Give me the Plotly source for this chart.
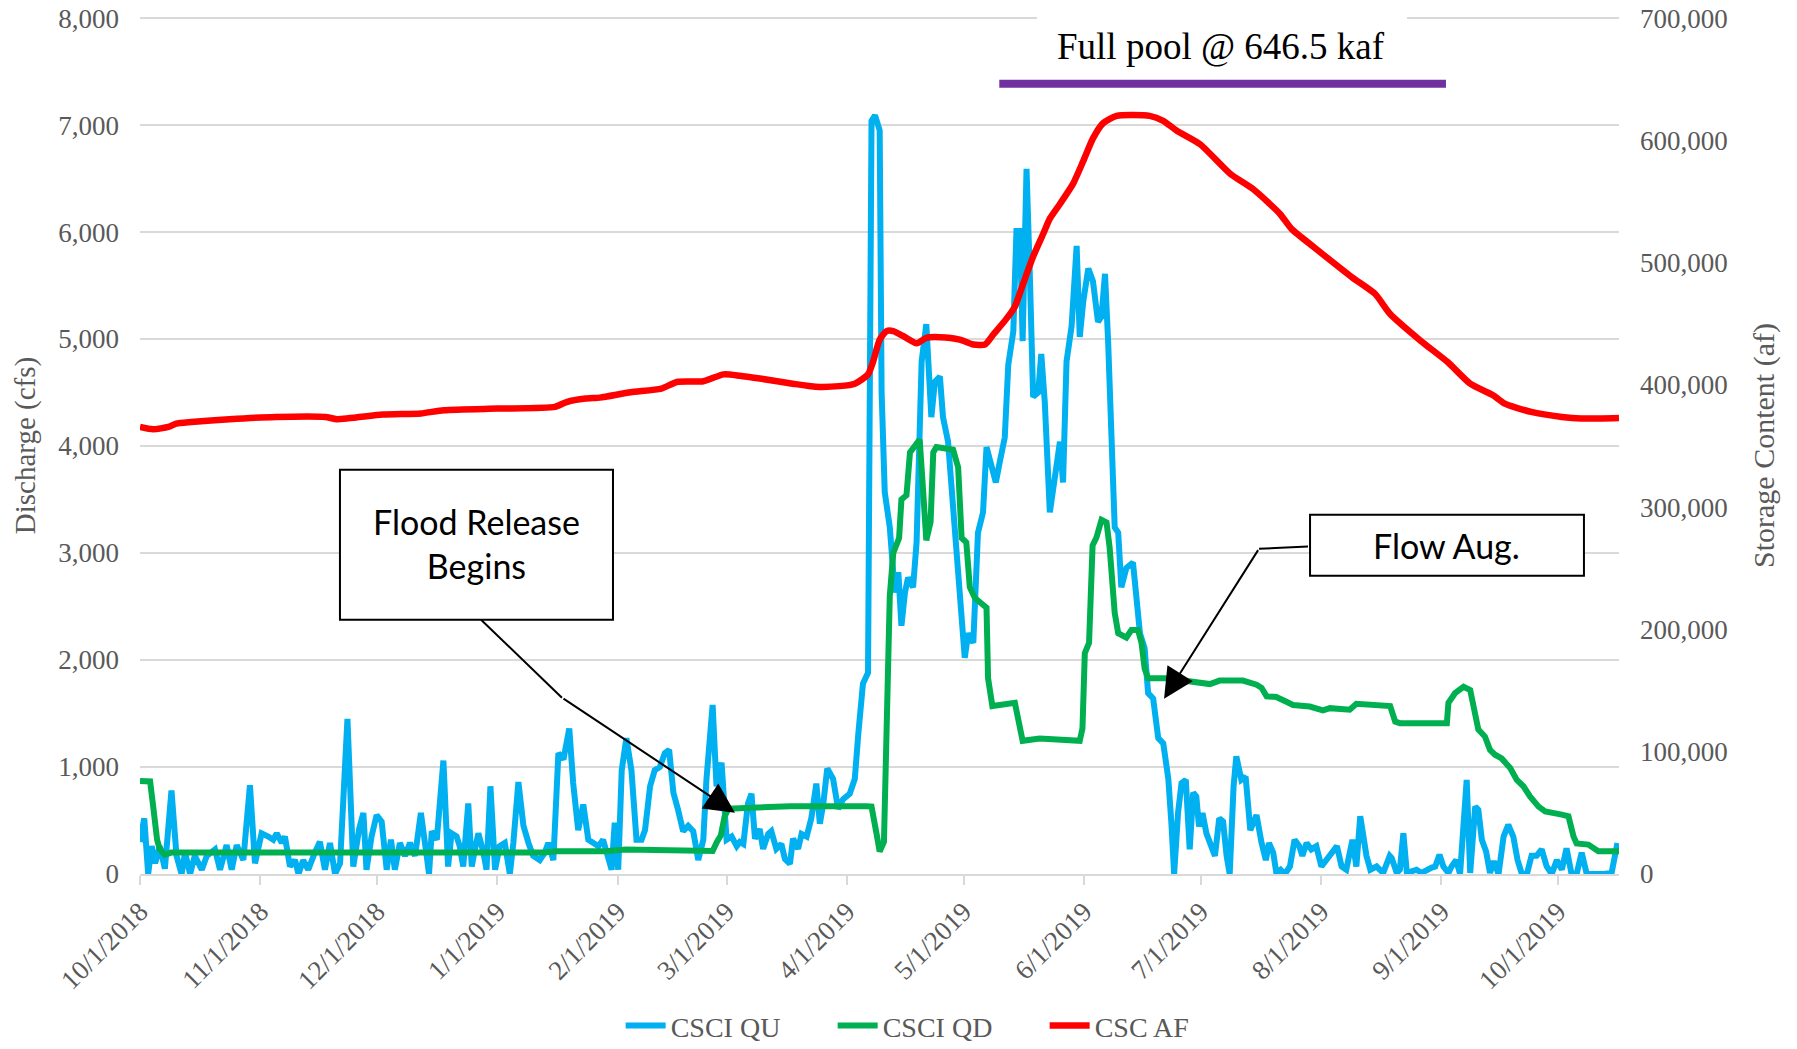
import pandas as pd
import plotly.graph_objects as go

# Water year 2019 — Crystal (CSCI) inflow / release and storage
START = pd.Timestamp("2018-10-01")

# CSCI QU (cfs), day offsets from 10/1/2018
qu_day = [0, 1.1, 2.1, 3, 3.9, 5.1, 6.4, 8.1, 9.4, 10.7, 11.6, 12.9, 14.1, 15.9, 17.2, 19.3, 20.6, 22.3,
          23.6, 24.9, 26.6, 28.3, 29.6, 31.3, 33, 34.3, 35.2, 36.5, 37.3, 38.6, 39.9, 40.8, 42, 43.3, 45,
          46.3, 47.6, 48.9, 50.2, 51.5, 53.4, 54.9, 56.4, 57.5, 58.3, 59.6, 60.9, 62.2, 63.5, 64.6, 65.6,
          66.9, 68.2, 69.5, 70.8, 72.3, 73.8, 74.4, 75.1, 76.4, 78.1, 79.3, 80.2, 81.5, 82.3, 83.2, 84.5,
          85.4, 86.2, 87.1, 88.4, 89.2, 90.2, 91.4, 92.6, 93.9, 95.2, 96.1, 97.4, 98.7, 100, 101.2, 102.9,
          104.2, 105.1, 106.4, 107.7, 109, 110.5, 111.5, 112.8, 114.1, 115.4, 116.7, 118, 119.2, 120.5,
          121.4, 122.2, 123.1, 124, 125.2, 126.5, 127.8, 129.1, 130, 131.3, 132.5, 133.8, 135.1, 136.2,
          137.3, 138.5, 139.8, 141.1, 142.4, 143.7, 145, 145.8, 147.4, 148.4, 149.7, 151, 152.3, 153.6,
          154.4, 155.3, 156.5, 157.4, 158.3, 159.5, 160.4, 161.7, 162.5, 163.8, 165.1, 166, 167.3, 168.1,
          169.4, 170.3, 171.6, 172.8, 174.1, 175, 175.9, 176.9, 178.4, 179.7, 181, 182.7, 184, 184.9,
          186.1, 187.4, 188.3, 189.2, 190.4, 190.9, 191.7, 193, 194.3, 195.2, 196, 196.9, 197.7, 199,
          199.9, 201.2, 202.4, 203.7, 204.6, 205.9, 206.7, 208, 209.3, 210.6, 211.5, 212.3, 213.2, 214.5,
          215.7, 217, 217.9, 219.2, 220.3, 221.3, 222.6, 223.5, 224.8, 225.6, 226.5, 227.2, 228.2, 229.1,
          229.9, 231.2, 232, 232.9, 234.2, 235.5, 236.8, 237.6, 238.5, 239.8, 241.1, 241.9, 242.8, 244.1,
          245.3, 246.6, 247.5, 248.4, 249.2, 250.9, 251.8, 252.6, 253.9, 255.6, 257.4, 258.6, 259.5,
          260.8, 262.1, 263.4, 264.7, 265.5, 266.2, 267.2, 268.1, 269.2, 270.2, 271.1, 271.9, 272.6,
          273.5, 274.5, 275.8, 276.7, 277.8, 278.8, 279.7, 280.5, 281.5, 282.2, 283.5, 284.6, 285.8,
          287.4, 288.7, 289.8, 290.6, 291.7, 292.5, 293.6, 294.7, 296, 297.2, 298.4, 299.2, 300.3, 301.5,
          302.8, 304.1, 305.4, 306.7, 308.1, 309.3, 310.5, 312.1, 313.1, 314.1, 315.7, 316.7, 318.3, 320,
          321.7, 322.2, 323.5, 324.3, 325.2, 326.1, 327.4, 328.6, 329.9, 331.2, 332.5, 333.4, 334.5,
          335.5, 336.8, 337.6, 338.8, 339.8, 341.5, 342.4, 343.7, 344.5, 345.4, 346.5, 347.5, 348.5,
          349.7, 351, 352.2, 353.5, 354.6, 355.7, 357, 358.2, 359.5, 360.8, 362.1, 363.4, 364.7, 366,
          367.2, 368.5, 369.8, 371.1, 372.4, 376.7, 378.8, 380.3]
qu_cfs = [300, 520, 0, 260, 100, 260, 50, 780, 170, 0, 200, 0, 170, 40, 170, 230, 40, 270,
          40, 270, 130, 830, 100, 380, 350, 320, 380, 290, 350, 70, 130, 0, 130, 40, 200,
          300, 40, 290, 0, 100, 1450, 70, 420, 570, 40, 350, 550, 490, 40, 320, 40,
          290, 170, 290, 170, 570, 170, 0, 400, 320, 1060, 70, 380, 350, 260, 70, 660,
          70, 230, 380, 200, 40, 820, 40, 260, 290, 0, 290, 860, 450, 290, 170, 130,
          200, 290, 130, 1130, 1070, 1360, 850, 410, 650, 320, 290, 260, 320, 130,
          40, 480, 40, 970, 1270, 970, 320, 320, 410, 820, 970, 1000, 1130, 1160,
          760, 600, 400, 450, 400, 130, 320, 880, 1580, 820, 1040, 320, 350, 260,
          300, 280, 660, 750, 330, 420, 235, 375, 400, 235, 280, 140, 94, 330,
          235, 375, 350, 520, 845, 470, 660, 985, 890, 610, 700, 750, 890, 1310,
          1780, 1880, 7040, 7090, 6950, 4500, 3570, 3240, 2630, 2820, 2320, 2630, 2770, 2680,
          3100, 4790, 5140, 4270, 4600, 4650, 4270, 4040, 3470, 2910, 2490, 2020, 2250, 2160,
          3190, 3380, 3990, 3800, 3660, 3850, 4080, 4760, 5070, 6010, 6010, 4980, 6590, 5540,
          4460, 4500, 4860, 4410, 3380, 3710, 4040, 3660, 4790, 5120, 5870, 5020, 5350, 5660,
          5540, 5160, 5210, 5610, 4980, 3240, 3190, 2680, 2860, 2910, 2250, 2110, 1690,
          1640, 1270, 1220, 890, 470, 0, 570, 850, 880, 230, 760, 725, 445,
          570, 380, 230, 170, 520, 490, 170, 0, 820, 1100, 880, 910, 410,
          550, 290, 130, 290, 200, 10, 40, 0, 70, 320, 260, 170, 290, 230,
          260, 70, 130, 200, 260, 70, 40, 320, 70, 540, 170, 40, 70, 10,
          170, 150, 10, 40, 380, 10, 25, 40, 10, 40, 60, 70, 180,
          70, 10, 70, 130, 0, 880, 10, 630, 600, 320, 210, 10, 120,
          0, 350, 460, 350, 130, 0, 0, 170, 170, 230, 70, 0, 130, 40,
          240, 0, 0, 200, 0, 0, 10, 290]

# CSCI QD (cfs)
qd_day = [0, 2.6, 3.4, 4.4, 5.1, 6.4, 8, 20, 40, 60, 78, 104, 107, 120, 125, 146, 147.4, 148.5,
          149.5, 150.5, 151.5, 154.4, 167.3, 187, 188.3, 189.6, 190.4, 191.5, 192.2, 193, 193.9,
          195.4, 196, 197.3, 198.2, 200.7, 201.6, 202.4, 203.5, 204.2, 205, 209.3, 210.6, 211.5,
          212.7, 213.6, 214.9, 217.9, 218.3, 219.4, 225.2, 226, 227.2, 231.6, 241.9, 242.6, 243.2,
          244.3, 245.2, 246.2, 247.5, 248.8, 249.6, 250.9, 251.8, 253.9, 255.2, 256.9, 257.8,
          258.6, 259.5, 264.2, 271.9, 275.4, 277.9, 283.9, 287.4, 288.7, 290, 292.5, 295.1, 296.8,
          301.1, 304.5, 306.3, 311.4, 313.1, 321.8, 323.1, 324.3, 336.4, 336.8, 338.5, 340.7,
          342.4, 343.7, 344.5, 346.2, 347.5, 348.8, 350.5, 352.7, 354.4, 356.1, 357.8, 360, 361.7,
          366, 367.7, 369, 369.8, 372.8, 375.4, 380.7]
qd_cfs = [870, 865, 630, 320, 230, 180, 200, 205, 200, 200, 196, 200, 212, 212, 228, 228, 215, 300,
          360, 540, 610, 615, 633, 633, 630, 375, 211, 300, 1200, 2600, 3000,
          3140, 3500, 3540, 3940, 4060, 3570, 3120, 3290, 3940, 3990, 3965, 3800, 3140,
          3100, 2680, 2580, 2490, 1830, 1570, 1600, 1455, 1245, 1267, 1245, 1360, 2065,
          2160, 3070, 3145, 3310, 3285, 3050, 2440, 2250, 2210, 2280, 2280, 2160,
          1920, 1830, 1830, 1790, 1775, 1808, 1808, 1770, 1740, 1660, 1655, 1610, 1580,
          1565, 1530, 1550, 1535, 1590, 1570, 1425, 1410, 1410, 1600, 1690, 1750,
          1720, 1440, 1350, 1285, 1160, 1115, 1080, 990, 880, 820, 725, 630, 585,
          555, 540, 350, 285, 275, 212, 212]

# CSC AF (acre-feet)
af_day = [0, 3.4, 7.3, 9.3, 13.2, 23, 34.9, 47.7, 50.7, 62.5, 72.3, 78.2, 92, 106.8, 109.8, 114.7,
          118.4, 126.3, 134.2, 138.2, 145, 150.2, 154.4, 160, 168, 174, 180, 184, 187.4, 188.7,
          190.4, 192.2, 193.9, 196.4, 199.9, 202.4, 205.9, 211, 214.5, 217.5, 219.6, 223, 225.2,
          227.3, 229.9, 232.5, 234.2, 236.8, 240.2, 242.8, 245.3, 247.9, 251.4, 259.9, 263.4,
          266.8, 272.8, 280.7, 286.6, 293.4, 296.4, 302.2, 312, 317.9, 321.8, 329.7, 336.6, 342.4,
          348.3, 351.3, 358.1, 366, 370.9, 380.7]
af_val = [365600, 363700, 365600, 368400, 369700, 371900, 373800, 373800, 372000, 375700, 376600,
          379300, 380600, 382000, 386000, 388800, 389600, 394000, 397000, 402400, 403000, 408600,
          407500, 405000, 401000, 398500, 399000, 401000, 408600, 419000, 437000, 444000, 444000,
          440000, 434000, 438500, 439000, 437000, 433000, 433000, 441000, 454000, 464000, 482500,
          505000, 523600, 536000, 548000, 564600, 583000, 601600, 614000, 620000, 620000, 616000,
          608000, 597000, 572500, 560000, 540000, 527600, 512600, 488000, 474500, 458000, 436000,
          418700, 401000, 391500, 384700, 377900, 373800, 372500, 373000]

tick_dates = ["2018-10-01", "2018-11-01", "2018-12-01", "2019-01-01", "2019-02-01", "2019-03-01",
              "2019-04-01", "2019-05-01", "2019-06-01", "2019-07-01", "2019-08-01", "2019-09-01",
              "2019-10-01"]
tick_text = ["10/1/2018", "11/1/2018", "12/1/2018", "1/1/2019", "2/1/2019", "3/1/2019", "4/1/2019",
             "5/1/2019", "6/1/2019", "7/1/2019", "8/1/2019", "9/1/2019", "10/1/2019"]


def to_dates(days):
    return START + pd.to_timedelta(days, unit="D")


SERIF = "Liberation Serif"
CALLOUT = "Lato"
GREY = "#595959"
GRID = "#d9d9d9"

fig = go.Figure()
fig.add_trace(go.Scatter(x=to_dates(qu_day), y=qu_cfs, name="CSCI QU", mode="lines",
                         line=dict(color="#00B0F0", width=6)))
fig.add_trace(go.Scatter(x=to_dates(qd_day), y=qd_cfs, name="CSCI QD", mode="lines",
                         line=dict(color="#00B050", width=6)))
fig.add_trace(go.Scatter(x=to_dates(af_day), y=af_val, name="CSC AF", mode="lines", yaxis="y2",
                         line=dict(color="#FF0000", width=6.5, shape="spline", smoothing=0.6)))

fig.update_layout(
    width=1797, height=1049,
    margin=dict(l=140, r=178, t=17, b=175),
    plot_bgcolor="white", paper_bgcolor="white",
    font=dict(family=SERIF, color=GREY, size=27),
    xaxis=dict(type="date", range=["2018-10-01", "2019-10-16 17:00"], automargin=False,
               tickvals=tick_dates, ticktext=tick_text, tickangle=-45,
               ticks="outside", ticklen=9, tickwidth=1.5, tickcolor=GRID,
               showgrid=False, showline=True, linecolor=GRID, linewidth=2, zeroline=False,
               tickfont=dict(size=27)),
    yaxis=dict(range=[0, 8010], tickvals=[0, 1000, 2000, 3000, 4000, 5000, 6000, 7000, 8000],
               tickformat=",", gridcolor=GRID, gridwidth=2, ticklabeloverflow="allow",
               zeroline=False, showline=False, ticklabelstandoff=20, automargin=False,
               title=dict(text="Discharge (cfs)", standoff=14, font=dict(size=29))),
    yaxis2=dict(range=[0, 700875], tickvals=[0, 100000, 200000, 300000, 400000, 500000, 600000, 700000],
                tickformat=",", overlaying="y", side="right", ticklabeloverflow="allow",
                showgrid=False, zeroline=False, showline=False, ticklabelstandoff=20,
                automargin=False,
                title=dict(text="Storage Content (af)", standoff=26, font=dict(size=30))),
    legend=dict(orientation="h", x=0.540, xanchor="center", yref="container", y=0.022,
                yanchor="middle", bgcolor="rgba(0,0,0,0)",
                font=dict(size=28), itemwidth=40, entrywidth=157, entrywidthmode="pixels"),
)

# gap in top gridline behind the full-pool label, plus the purple bar
fig.add_shape(type="rect", xref="paper", yref="paper", x0=0.6065, x1=0.8567, y0=0.99, y1=1.01,
              fillcolor="white", line=dict(width=0), layer="above")
fig.add_shape(type="line", xref="paper", yref="paper", x0=0.581, x1=0.883, y0=0.922, y1=0.922,
              line=dict(color="#7030A0", width=8))
fig.add_annotation(text="Full pool @ 646.5 kaf", xref="paper", yref="paper", x=0.731, y=0.966,
                   xanchor="center", yanchor="middle", showarrow=False,
                   font=dict(family=SERIF, size=37, color="black"))

# callout boxes
fig.add_shape(type="rect", xref="paper", yref="paper", x0=0.1352, x1=0.3198, y0=0.2967, y1=0.4717,
              line=dict(color="black", width=2), fillcolor="white", layer="above")
fig.add_annotation(text="Flood Release<br>Begins", xref="paper", yref="paper", x=0.2275, y=0.386,
                   xanchor="center", yanchor="middle", showarrow=False,
                   font=dict(family=CALLOUT, size=34, color="black"))
fig.add_shape(type="line", xref="paper", yref="paper", x0=0.2306, y0=0.2967, x1=0.2853, y1=0.2057,
              line=dict(color="black", width=2))
fig.add_annotation(text="", xref="paper", yref="paper", x=0.4023, y=0.0716, ax=-173, ay=-115,
                   showarrow=True, arrowhead=2, arrowsize=3, arrowwidth=2, arrowcolor="black")

fig.add_shape(type="rect", xref="paper", yref="paper", x0=0.7911, x1=0.9763, y0=0.348, y1=0.4192,
              line=dict(color="black", width=2), fillcolor="white", layer="above")
fig.add_annotation(text="Flow Aug.", xref="paper", yref="paper", x=0.8837, y=0.3836,
                   xanchor="center", yanchor="middle", showarrow=False,
                   font=dict(family=CALLOUT, size=34, color="black"))
fig.add_shape(type="line", xref="paper", yref="paper", x0=0.7897, y0=0.3822, x1=0.7566, y1=0.3795,
              line=dict(color="black", width=2))
fig.add_annotation(text="", xref="paper", yref="paper", x=0.6924, y=0.2046, ax=95, ay=-150,
                   showarrow=True, arrowhead=2, arrowsize=3, arrowwidth=2, arrowcolor="black")

# drop the default 8px body margin so the figure sits at the page origin; no modebar
fig.write_html("out.html", config={"displayModeBar": False},
               post_script="document.body.style.margin = '0';")
